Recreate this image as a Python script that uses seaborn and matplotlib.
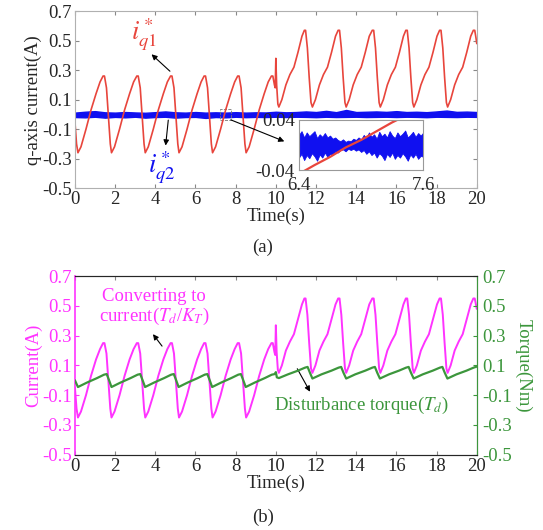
import numpy as np
import seaborn as sns
import matplotlib.pyplot as plt
from matplotlib.patches import Rectangle


# ---- data ----
# shared time axis for the q-axis current reference (a) and converted current (b)
t_cur = [0.0, 0.08, 0.15, 0.3, 0.55, 0.8, 1.05, 1.25, 1.4, 1.47, 1.57, 1.67, 1.76, 1.82,
         1.97, 2.22, 2.47, 2.72, 2.92, 3.08, 3.15, 3.25, 3.35, 3.44, 3.5,
         3.65, 3.9, 4.15, 4.4, 4.6, 4.76, 4.83, 4.93, 5.03, 5.12, 5.18,
         5.33, 5.58, 5.83, 6.08, 6.28, 6.43, 6.5, 6.6, 6.7, 6.79, 6.85,
         7.0, 7.25, 7.5, 7.75, 7.95, 8.1, 8.17, 8.27, 8.37, 8.46, 8.52,
         8.67, 8.92, 9.17, 9.42, 9.62, 9.78, 9.85, 9.93, 9.97, 10.0, 10.04, 10.1, 10.15,
         10.3, 10.5, 10.7, 10.9, 11.1, 11.3, 11.42, 11.48, 11.57, 11.66, 11.75, 11.82,
         11.97, 12.17, 12.37, 12.57, 12.77, 12.97, 13.1, 13.17, 13.26, 13.35, 13.44, 13.5,
         13.65, 13.85, 14.05, 14.25, 14.45, 14.65, 14.8, 14.87, 14.96, 15.05, 15.14, 15.2,
         15.35, 15.55, 15.75, 15.95, 16.15, 16.35, 16.47, 16.54, 16.63, 16.72, 16.81, 16.87,
         17.02, 17.22, 17.42, 17.62, 17.82, 18.02, 18.15, 18.22, 18.31, 18.4, 18.49, 18.55,
         18.7, 18.9, 19.1, 19.3, 19.5, 19.7, 19.83, 19.9, 19.96, 20.0]

iq1 = [-0.05, -0.2, -0.26, -0.22, -0.1, 0.03, 0.14, 0.22, 0.26, 0.26, 0.18, -0.02, -0.2, -0.26,
       -0.22, -0.1, 0.03, 0.14, 0.22, 0.26, 0.26, 0.18, -0.02, -0.2, -0.26,
       -0.22, -0.1, 0.03, 0.14, 0.22, 0.26, 0.26, 0.18, -0.02, -0.2, -0.26,
       -0.22, -0.1, 0.03, 0.14, 0.22, 0.26, 0.26, 0.18, -0.02, -0.2, -0.26,
       -0.22, -0.1, 0.03, 0.14, 0.22, 0.26, 0.26, 0.18, -0.02, -0.2, -0.26,
       -0.22, -0.1, 0.03, 0.14, 0.22, 0.26, 0.26, 0.2, 0.18, 0.38, 0.2, 0.07, 0.05,
       0.1, 0.2, 0.27, 0.32, 0.42, 0.53, 0.57, 0.57, 0.45, 0.25, 0.08, 0.05,
       0.1, 0.2, 0.27, 0.32, 0.42, 0.53, 0.57, 0.57, 0.45, 0.25, 0.08, 0.05,
       0.1, 0.2, 0.27, 0.32, 0.42, 0.53, 0.57, 0.57, 0.45, 0.25, 0.08, 0.05,
       0.1, 0.2, 0.27, 0.32, 0.42, 0.53, 0.57, 0.57, 0.45, 0.25, 0.08, 0.05,
       0.1, 0.2, 0.27, 0.32, 0.42, 0.53, 0.57, 0.57, 0.45, 0.25, 0.08, 0.05,
       0.1, 0.2, 0.27, 0.32, 0.42, 0.53, 0.57, 0.57, 0.52, 0.48]

cur_td = [-0.05, -0.19, -0.25, -0.21, -0.1, 0.03, 0.14, 0.21, 0.25, 0.25, 0.18, -0.02, -0.19, -0.25,
          -0.21, -0.1, 0.03, 0.14, 0.21, 0.25, 0.25, 0.18, -0.02, -0.19, -0.25,
          -0.21, -0.1, 0.03, 0.14, 0.21, 0.25, 0.25, 0.18, -0.02, -0.19, -0.25,
          -0.21, -0.1, 0.03, 0.14, 0.21, 0.25, 0.25, 0.18, -0.02, -0.19, -0.25,
          -0.21, -0.1, 0.03, 0.14, 0.21, 0.25, 0.25, 0.18, -0.02, -0.19, -0.25,
          -0.21, -0.1, 0.03, 0.14, 0.21, 0.25, 0.25, 0.19, 0.17, 0.37, 0.19, 0.07, 0.05,
          0.1, 0.2, 0.26, 0.31, 0.41, 0.51, 0.55, 0.55, 0.44, 0.25, 0.08, 0.05,
          0.1, 0.2, 0.26, 0.31, 0.41, 0.51, 0.55, 0.55, 0.44, 0.25, 0.08, 0.05,
          0.1, 0.2, 0.26, 0.31, 0.41, 0.51, 0.55, 0.55, 0.44, 0.25, 0.08, 0.05,
          0.1, 0.2, 0.26, 0.31, 0.41, 0.51, 0.55, 0.55, 0.44, 0.25, 0.08, 0.05,
          0.1, 0.2, 0.26, 0.31, 0.41, 0.51, 0.55, 0.55, 0.44, 0.25, 0.08, 0.05,
          0.1, 0.2, 0.26, 0.31, 0.41, 0.51, 0.55, 0.55, 0.51, 0.48]

# disturbance torque
t_td = [0.0, 0.15, 0.6, 1.1, 1.45, 1.58, 1.7, 1.82,
        2.27, 2.77, 3.12, 3.25, 3.37, 3.49,
        3.94, 4.44, 4.79, 4.92, 5.04, 5.16,
        5.61, 6.11, 6.46, 6.59, 6.71, 6.83,
        7.28, 7.78, 8.13, 8.26, 8.38, 8.5,
        8.95, 9.45, 9.8, 9.95, 10.0, 10.05, 10.15,
        10.6, 11.1, 11.45, 11.58, 11.7, 11.82,
        12.27, 12.77, 13.12, 13.25, 13.37, 13.5,
        13.95, 14.45, 14.8, 14.93, 15.05, 15.18,
        15.63, 16.13, 16.48, 16.61, 16.73, 16.86,
        17.31, 17.81, 18.16, 18.29, 18.41, 18.54,
        18.99, 19.49, 19.84, 20.0]
torque = [0.0, -0.045, -0.015, 0.015, 0.038, 0.042, 0.0, -0.045,
          -0.015, 0.015, 0.038, 0.042, 0.0, -0.045,
          -0.015, 0.015, 0.038, 0.042, 0.0, -0.045,
          -0.015, 0.015, 0.038, 0.042, 0.0, -0.045,
          -0.015, 0.015, 0.038, 0.042, 0.0, -0.045,
          -0.015, 0.015, 0.038, 0.042, 0.055, 0.02, 0.015,
          0.04, 0.065, 0.085, 0.09, 0.05, 0.012,
          0.04, 0.065, 0.085, 0.09, 0.05, 0.012,
          0.04, 0.065, 0.085, 0.09, 0.05, 0.012,
          0.04, 0.065, 0.085, 0.09, 0.05, 0.012,
          0.04, 0.065, 0.085, 0.09, 0.05, 0.012,
          0.04, 0.065, 0.085, 0.092]

# iq2 noise band (upper / lower envelope)
t_iq2 = [0.0, 0.5, 1.0, 1.5, 2.0, 2.5, 3.0, 3.5, 4.0, 4.5, 5.0, 5.5, 6.0, 6.5, 7.0, 7.5,
         8.0, 8.5, 9.0, 9.5, 10.0, 10.5, 11.0, 11.5, 12.0, 12.5, 13.0, 13.5, 14.0, 14.5,
         15.0, 15.5, 16.0, 16.5, 17.0, 17.5, 18.0, 18.5, 19.0, 19.5, 20.0]
iq2_hi = [0.012, 0.018, 0.022, 0.014, 0.012, 0.016, 0.013, 0.011, 0.015, 0.02, 0.014, 0.012,
          0.016, 0.012, 0.014, 0.012, 0.015, 0.012, 0.014, 0.013, 0.018, 0.014, 0.016, 0.02,
          0.016, 0.024, 0.015, 0.03, 0.016, 0.018, 0.02, 0.017, 0.022, 0.016, 0.018, 0.015,
          0.02, 0.026, 0.017, 0.019, 0.016]
iq2_lo = [-0.018, -0.02, -0.016, -0.022, -0.017, -0.02, -0.016, -0.022, -0.018, -0.016,
          -0.022, -0.018, -0.017, -0.024, -0.018, -0.02, -0.016, -0.019, -0.017, -0.018,
          -0.016, -0.018, -0.016, -0.017, -0.019, -0.016, -0.018, -0.017, -0.016, -0.018,
          -0.017, -0.016, -0.018, -0.016, -0.017, -0.019, -0.016, -0.017, -0.018, -0.016,
          -0.017]

# inset (6.4 s - 7.6 s)
t_zoom = [6.4, 6.425, 6.45, 6.475, 6.5, 6.525, 6.55, 6.575, 6.6, 6.625, 6.65, 6.675,
          6.7, 6.725, 6.75, 6.775, 6.8, 6.825, 6.85, 6.875, 6.9, 6.925, 6.95, 6.975,
          7.0, 7.025, 7.05, 7.075, 7.1, 7.125, 7.15, 7.175, 7.2, 7.225, 7.25, 7.275,
          7.3, 7.325, 7.35, 7.375, 7.4, 7.425, 7.45, 7.475, 7.5, 7.525, 7.55, 7.575, 7.6]
zoom_hi = [0.016, 0.022, 0.012, 0.02, 0.014, 0.018, 0.022, 0.011, 0.017, 0.013, 0.019, 0.012,
           0.015, 0.01, 0.012, 0.008, 0.006, 0.009, 0.005, 0.007, 0.006, 0.01, 0.008, 0.012,
           0.009, 0.016, 0.011, 0.02, 0.013, 0.017, 0.01, 0.021, 0.014, 0.018, 0.012, 0.022,
           0.015, 0.011, 0.02, 0.014, 0.018, 0.023, 0.012, 0.016, 0.021, 0.013, 0.019, 0.015,
           0.02]
zoom_lo = [-0.02, -0.014, -0.024, -0.016, -0.021, -0.013, -0.018, -0.025, -0.015, -0.02,
           -0.012, -0.019, -0.014, -0.016, -0.01, -0.012, -0.008, -0.007, -0.01, -0.006,
           -0.008, -0.006, -0.009, -0.007, -0.011, -0.008, -0.014, -0.01, -0.016, -0.012,
           -0.02, -0.013, -0.017, -0.024, -0.014, -0.019, -0.012, -0.022, -0.016, -0.02,
           -0.013, -0.018, -0.025, -0.015, -0.02, -0.014, -0.022, -0.017, -0.019]
t_zoom_iq1 = [6.4, 6.55, 6.7, 6.85, 7.0, 7.15, 7.3, 7.45, 7.6]
zoom_iq1 = [-0.046, -0.032, -0.019, -0.004, 0.008, 0.022, 0.036, 0.048, 0.062]

x_ticks = [0, 2, 4, 6, 8, 10, 12, 14, 16, 18, 20]
y_ticks = [-0.5, -0.3, -0.1, 0.1, 0.3, 0.5, 0.7]
y_labels = ['-0.5', '-0.3', '-0.1', '0.1', '0.3', '0.5', '0.7']

RED = '#e8453c'
BLUE = '#1010f0'
MAGENTA = '#ff33ff'
GREEN = '#3c963c'
FS = 13.5

sns.set_style('ticks')
plt.rcParams['font.family'] = ['Liberation Serif', 'DejaVu Serif']
plt.rcParams['mathtext.fontset'] = 'stix'
plt.rcParams['font.size'] = FS

fig = plt.figure(figsize=(5.43, 5.30), dpi=100)


def style_axes(ax, spine_col):
    ax.set_xlim(0, 20)
    ax.set_ylim(-0.5, 0.7)
    ax.set_xticks(x_ticks)
    ax.set_yticks(y_ticks)
    ax.set_yticklabels(y_labels)
    ax.tick_params(direction='in', length=3, width=0.8, labelsize=FS, pad=2,
                   top=True, right=True, color='#888888')
    for sp in ax.spines.values():
        sp.set_color(spine_col)
        sp.set_linewidth(0.8)
    ax.set_xlabel('Time(s)', fontsize=FS, labelpad=0)


# 1. PANEL (a)
ax = fig.add_axes([0.138, 0.645, 0.740, 0.334])
style_axes(ax, '#b0b0b0')
ax.fill_between(t_iq2, iq2_lo, iq2_hi, color=BLUE, lw=1.0, edgecolor=BLUE)
sns.lineplot(x=t_cur, y=iq1, ax=ax, color=RED, lw=1.2, estimator=None, sort=False)
ax.set_ylabel('q-axis current(A)', fontsize=FS, labelpad=0)
ax.add_patch(Rectangle((7.22, -0.035), 0.55, 0.07, fill=False, ls='--', lw=0.6, ec='#777777'))

arrow = dict(arrowstyle='-|>', color='black', lw=0.8, mutation_scale=8)
ax.annotate('', xy=(3.71, 0.42), xytext=(4.83, 0.28), arrowprops=arrow)
ax.text(3.45, 0.54, r'$i^*_{q1}$', color=RED, fontsize=19, ha='center', va='center')
ax.annotate('', xy=(4.5, -0.23), xytext=(4.66, -0.02), arrowprops=arrow)
ax.text(4.3, -0.36, r'$i^*_{q2}$', color=BLUE, fontsize=19, ha='center', va='center')
ax.annotate('', xy=(10.55, -0.19), xytext=(7.63, -0.03), arrowprops=arrow)

ins = ax.inset_axes([11.15, -0.378, 6.19, 0.341], transform=ax.transData)
ins.fill_between(t_zoom, zoom_lo, zoom_hi, color=BLUE, lw=0.6, edgecolor=BLUE)
sns.lineplot(x=t_zoom_iq1, y=zoom_iq1, ax=ins, color=RED, lw=1.6, estimator=None, sort=False)
ins.set_xlim(6.4, 7.6)
ins.set_ylim(-0.04, 0.04)
ins.set_xticks([6.4, 7.6])
ins.set_xticklabels(['6.4', '7.6'])
ins.set_yticks([-0.04, 0.04])
ins.set_yticklabels(['-0.04', '0.04'])
ins.tick_params(axis='x', length=0, labelsize=FS, pad=5)
ins.tick_params(axis='y', length=0, labelsize=FS, pad=3)
for sp in ins.spines.values():
    sp.set_color('#999999')
    sp.set_linewidth(0.8)
ins.set_facecolor('white')

fig.text(0.484, 0.533, '(a)', fontsize=FS, ha='center', va='center')

# 2. PANEL (b)
axb = fig.add_axes([0.138, 0.142, 0.740, 0.337])
style_axes(axb, '#555555')
axb.tick_params(right=False)
axb.spines['left'].set_color(MAGENTA)
axb.spines['left'].set_linewidth(1.2)
axb.tick_params(axis='y', colors=MAGENTA)
sns.lineplot(x=t_cur, y=cur_td, ax=axb, color=MAGENTA, lw=1.4, estimator=None, sort=False)
axb.set_ylabel('Current(A)', fontsize=FS, color=MAGENTA, labelpad=0)

ax2 = axb.twinx()
ax2.set_ylim(-0.5, 0.7)
ax2.set_yticks(y_ticks)
ax2.set_yticklabels(y_labels)
ax2.tick_params(direction='in', length=3, labelsize=FS, pad=4, colors=GREEN)
ax2.spines['right'].set_color(GREEN)
ax2.spines['left'].set_visible(False)
sns.lineplot(x=t_td, y=torque, ax=ax2, color=GREEN, lw=1.6, estimator=None, sort=False)
ax2.set_ylabel('Torque(Nm)', fontsize=FS, color=GREEN, rotation=270, labelpad=14)

axb.annotate('', xy=(3.8, 0.325), xytext=(4.42, 0.215), arrowprops=arrow)
axb.text(3.95, 0.49, 'Converting to\ncurrent($T_d$/$K_T$)', color=MAGENTA, fontsize=FS,
         ha='center', va='center', linespacing=1.05)
axb.annotate('', xy=(11.77, -0.093), xytext=(11.0, 0.094), arrowprops=arrow)
axb.text(14.27, -0.17, 'Disturbance torque($T_d$)', color=GREEN, fontsize=FS,
         ha='center', va='center')

fig.text(0.484, 0.024, '(b)', fontsize=FS, ha='center', va='center')

plt.savefig('out.png', dpi=100)
